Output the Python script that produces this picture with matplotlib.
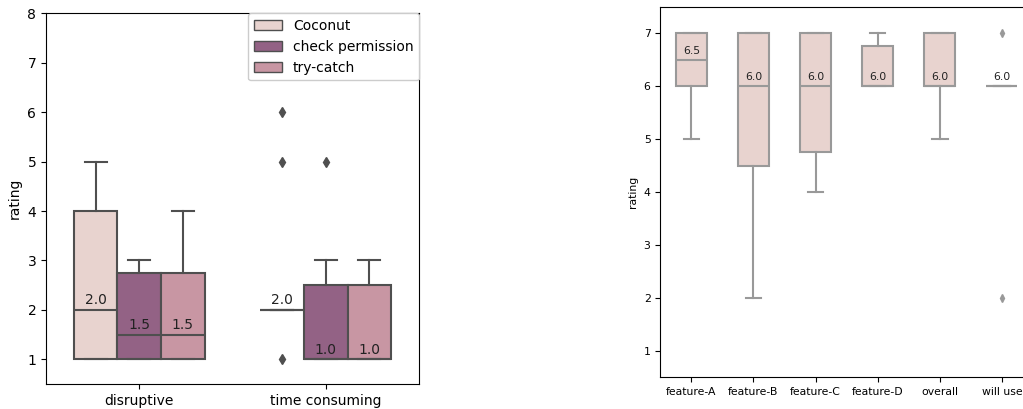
import matplotlib
matplotlib.use("Agg")
import matplotlib.pyplot as plt
from matplotlib.patches import Patch

# ---- Left chart data ----
groups = ["disruptive", "time consuming"]
methods = ["Coconut", "check permission", "try-catch"]
method_colors = ["#e8d3cf", "#936285", "#c896a3"]
# per method: [disruptive, time consuming]
left_whislo = {"Coconut": [1, 2], "check permission": [1, 1], "try-catch": [1, 1]}
left_q1 = {"Coconut": [1, 2], "check permission": [1, 1], "try-catch": [1, 1]}
left_med = {"Coconut": [2.0, 2.0], "check permission": [1.5, 1.0], "try-catch": [1.5, 1.0]}
left_q3 = {"Coconut": [4, 2], "check permission": [2.75, 2.5], "try-catch": [2.75, 2.5]}
left_whishi = {"Coconut": [5, 2], "check permission": [3, 3], "try-catch": [4, 3]}
left_fliers = {"Coconut": [[], [1, 5, 6]], "check permission": [[], [5]], "try-catch": [[], []]}

# ---- Right chart data ----
features = ["feature-A", "feature-B", "feature-C", "feature-D", "overall", "will use"]
r_whislo = [5, 2, 4, 6, 5, 6]
r_q1 = [6, 4.5, 4.75, 6, 6, 6]
r_med = [6.5, 6.0, 6.0, 6.0, 6.0, 6.0]
r_q3 = [7, 7, 7, 6.75, 7, 6]
r_whishi = [7, 7, 7, 7, 7, 6]
r_fliers = [[], [], [], [], [], [7, 2]]

W, H = 1023, 409
fig = plt.figure(figsize=(W / 100, H / 100), dpi=100)

# Left axes
ax1 = fig.add_axes([46 / W, 1 - 384 / H, (419 - 46) / W, (384 - 13.3) / H])
edge_l = "#4f4f4f"
n = len(methods)
total_w = 0.7
bw = total_w / n
for i, m in enumerate(methods):
    stats = []
    for g in range(len(groups)):
        stats.append(dict(whislo=left_whislo[m][g], q1=left_q1[m][g], med=left_med[m][g],
                          q3=left_q3[m][g], whishi=left_whishi[m][g], fliers=left_fliers[m][g]))
    pos = [g - total_w / 2 + bw * (i + 0.5) for g in range(len(groups))]
    ax1.bxp(stats, positions=pos, widths=bw, patch_artist=True, showcaps=True,
            boxprops=dict(facecolor=method_colors[i], edgecolor=edge_l, linewidth=1.5),
            medianprops=dict(color=edge_l, linewidth=1.5),
            whiskerprops=dict(color=edge_l, linewidth=1.5),
            capprops=dict(color=edge_l, linewidth=1.5),
            flierprops=dict(marker="d", markerfacecolor=edge_l, markeredgecolor=edge_l, markersize=5),
            manage_ticks=False)
    for g in range(len(groups)):
        ax1.text(pos[g], left_med[m][g] + 0.05, f"{left_med[m][g]:.1f}", ha="center", va="bottom",
                 fontsize=10, color="#222222")
ax1.set_xlim(-0.5, 1.5)
ax1.set_ylim(0.5, 8)
ax1.set_xticks(range(len(groups)))
ax1.set_xticklabels(groups, fontsize=10)
ax1.set_yticks(range(1, 9))
ax1.tick_params(labelsize=10)
ax1.set_ylabel("rating", fontsize=10)
handles = [Patch(facecolor=c, edgecolor=edge_l, label=m) for m, c in zip(methods, method_colors)]
ax1.legend(handles=handles, loc="upper right", fontsize=10, framealpha=1,
           borderaxespad=0.0, handlelength=2.0)

# Right axes
ax2 = fig.add_axes([660.3 / W, 1 - 377.3 / H, (1033 - 660.3) / W, (377.3 - 6.7) / H])
edge_r = "#999999"
stats = [dict(whislo=a, q1=b, med=c, q3=d, whishi=e, fliers=f)
         for a, b, c, d, e, f in zip(r_whislo, r_q1, r_med, r_q3, r_whishi, r_fliers)]
ax2.bxp(stats, positions=range(len(features)), widths=0.5, patch_artist=True,
        boxprops=dict(facecolor="#e8d3cf", edgecolor=edge_r, linewidth=1.5),
        medianprops=dict(color=edge_r, linewidth=1.5),
        whiskerprops=dict(color=edge_r, linewidth=1.5),
        capprops=dict(color=edge_r, linewidth=1.5),
        flierprops=dict(marker="d", markerfacecolor=edge_r, markeredgecolor=edge_r, markersize=4),
        manage_ticks=False)
for i, v in enumerate(r_med):
    ax2.text(i, v + 0.07, f"{v:.1f}", ha="center", va="bottom", fontsize=7.8, color="#222222")
ax2.set_xlim(-0.5, 5.5)
ax2.set_ylim(0.5, 7.5)
ax2.set_xticks(range(len(features)))
ax2.set_xticklabels(features)
ax2.set_yticks(range(1, 8))
ax2.tick_params(labelsize=7.8)
ax2.set_ylabel("rating", fontsize=7.8)

fig.savefig("out.png", dpi=100)
